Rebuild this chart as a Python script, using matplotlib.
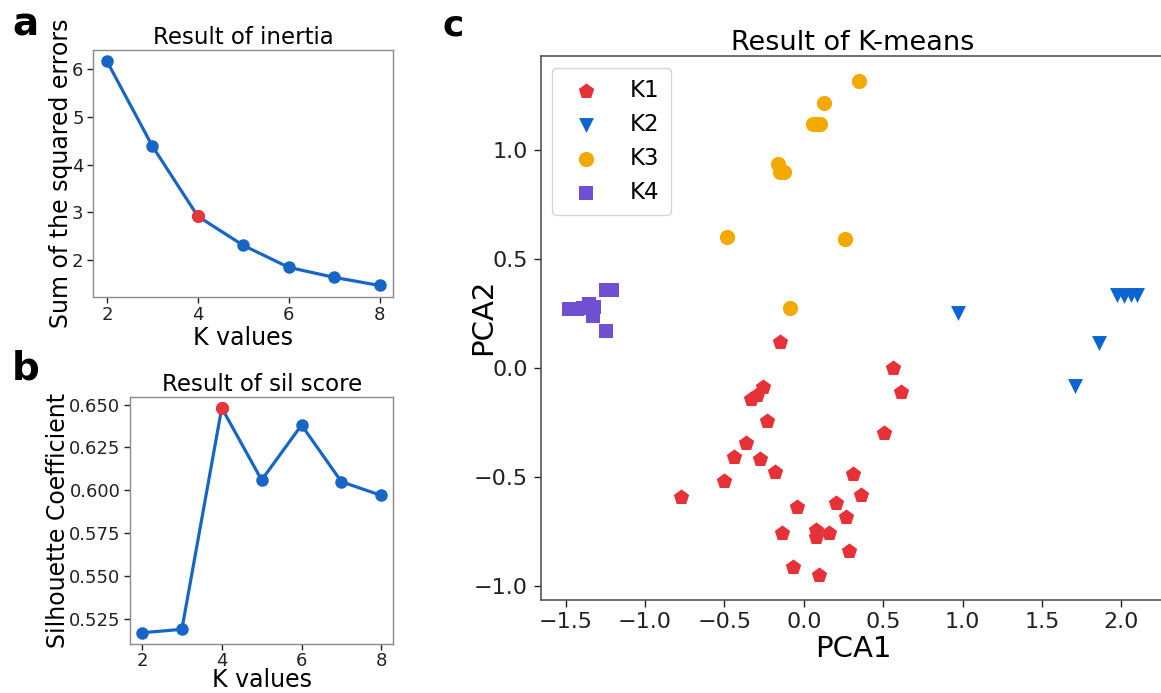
import matplotlib
matplotlib.use("Agg")
import matplotlib.pyplot as plt

plt.rcParams['font.family'] = ['DejaVu Sans']

# ---------------- data ----------------
k_values = [2, 3, 4, 5, 6, 7, 8]
inertia = [6.17, 4.39, 2.92, 2.31, 1.85, 1.64, 1.47]
sil_score = [0.517, 0.519, 0.648, 0.606, 0.638, 0.605, 0.597]
best_k = 4

k1_x = [-0.151, 0.563, 0.612, -0.257, -0.298, -0.334, -0.235, -0.366, -0.441, -0.277,
        -0.181, -0.503, -0.771, 0.504, 0.311, 0.359, -0.040, 0.202, 0.263, -0.139,
        0.074, 0.080, 0.158, 0.284, -0.071, 0.093]
k1_y = [0.121, 0.000, -0.109, -0.086, -0.124, -0.142, -0.242, -0.345, -0.407, -0.419,
        -0.476, -0.517, -0.590, -0.300, -0.488, -0.583, -0.639, -0.618, -0.682, -0.755,
        -0.743, -0.777, -0.758, -0.838, -0.914, -0.950]

k2_x = [0.973, 1.975, 2.020, 2.060, 2.100, 1.858, 1.709]
k2_y = [0.251, 0.335, 0.330, 0.335, 0.333, 0.116, -0.083]

k3_x = [0.349, 0.126, 0.060, 0.080, 0.100, -0.160, -0.150, -0.125, -0.484, 0.259, -0.090]
k3_y = [1.317, 1.214, 1.121, 1.121, 1.121, 0.935, 0.900, 0.900, 0.602, 0.590, 0.274]

k4_x = [-1.480, -1.430, -1.390, -1.352, -1.321, -1.330, -1.246, -1.208, -1.244]
k4_y = [0.272, 0.270, 0.275, 0.295, 0.280, 0.237, 0.359, 0.359, 0.169]

cluster_labels = ['K1', 'K2', 'K3', 'K4']

# ---------------- style ----------------
W, H = 1161, 693
fig = plt.figure(figsize=(W / 100, H / 100), dpi=100)

def px_axes(left, top, right, bottom):
    return fig.add_axes([left / W, 1 - bottom / H, (right - left) / W, (bottom - top) / H])

line_col = '#1766C6'
hi_col = '#E8363F'
frame_col = '#8a8a8a'

def style_small(ax):
    for s in ax.spines.values():
        s.set_color(frame_col)
        s.set_linewidth(1.0)
    ax.tick_params(labelsize=13, colors='#222222', length=4, width=1, pad=3)

# panel a
ax_a = px_axes(93.3, 50, 393.3, 296.7)
ax_a.plot(k_values, inertia, '-o', color=line_col, lw=2.3, ms=8)
ax_a.plot([best_k], [inertia[k_values.index(best_k)]], 'o', color=hi_col, ms=8.5)
ax_a.set_xticks([2, 4, 6, 8])
ax_a.set_yticks([2, 3, 4, 5, 6])
ax_a.set_title('Result of inertia', fontsize=16.5, pad=4)
ax_a.set_xlabel('K values', fontsize=17, labelpad=1)
ax_a.set_ylabel('Sum of the squared errors', fontsize=17, labelpad=-1)
style_small(ax_a)

# panel b
ax_b = px_axes(130, 396.7, 393.3, 644)
ax_b.plot(k_values, sil_score, '-o', color=line_col, lw=2.3, ms=8)
ax_b.plot([best_k], [sil_score[k_values.index(best_k)]], 'o', color=hi_col, ms=8.5)
ax_b.set_xticks([2, 4, 6, 8])
ax_b.set_yticks([0.525, 0.550, 0.575, 0.600, 0.625, 0.650])
ax_b.set_title('Result of sil score', fontsize=16.5, pad=4)
ax_b.set_ylabel('Silhouette Coefficient', fontsize=17, labelpad=-1)
style_small(ax_b)
ax_b.tick_params(axis='x', pad=2)
ax_b.set_xlabel('K values', fontsize=17, labelpad=-1.5)

# panel c
ax_c = px_axes(540.5, 56.3, 1165.5, 599.7)
ax_c.scatter(k1_x, k1_y, marker='p', s=135, color='#E63139', label=cluster_labels[0], linewidths=0)
ax_c.scatter(k2_x, k2_y, marker='v', s=115, color='#0B64CF', label=cluster_labels[1], linewidths=0)
ax_c.scatter(k3_x, k3_y, marker='o', s=120, color='#F2A900', label=cluster_labels[2], linewidths=0)
ax_c.scatter(k4_x, k4_y, marker='s', s=115, color='#7050D2', label=cluster_labels[3], linewidths=0)
ax_c.set_xlim(-1.659, 2.279)
ax_c.set_ylim(-1.063, 1.430)
ax_c.set_xticks([-1.5, -1.0, -0.5, 0.0, 0.5, 1.0, 1.5, 2.0])
ax_c.set_yticks([-1.0, -0.5, 0.0, 0.5, 1.0])
ax_c.set_title('Result of K-means', fontsize=19.5, pad=4)
ax_c.set_xlabel('PCA1', fontsize=21, labelpad=2)
ax_c.set_ylabel('PCA2', fontsize=21)
ax_c.yaxis.set_label_coords(-0.07, 0.52)
for s in ax_c.spines.values():
    s.set_color('#555555')
    s.set_linewidth(1.2)
ax_c.tick_params(labelsize=16, colors='#222222', length=5, width=1, pad=4)
leg = ax_c.legend(loc='upper left', fontsize=16.5, handletextpad=0.9, labelspacing=0.47,
                  borderpad=0.5, frameon=True)
leg.get_frame().set_edgecolor('#cccccc')

# panel letters
fig.text(12 / W, 1 - 36 / H, 'a', fontsize=28, fontweight='bold')
fig.text(12 / W, 1 - 379 / H, 'b', fontsize=28, fontweight='bold')
fig.text(443 / W, 1 - 36 / H, 'c', fontsize=26, fontweight='bold')

fig.savefig('out.png', dpi=100)
